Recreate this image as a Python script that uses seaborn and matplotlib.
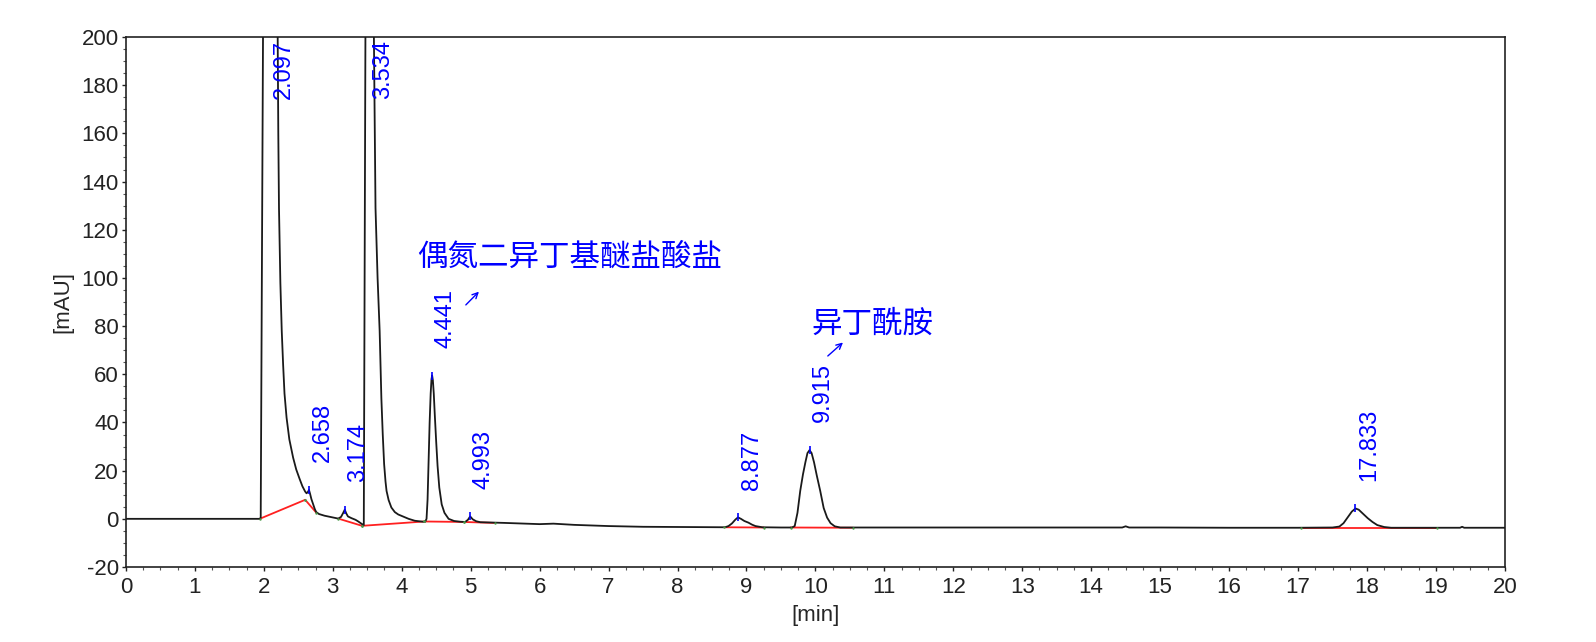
import matplotlib
matplotlib.use("Agg")
import matplotlib.pyplot as plt
from matplotlib.ticker import MultipleLocator
import seaborn as sns
import pandas as pd

# chromatogram trace (min, mAU)
trace_t = [0.0, 1.94, 1.955, 1.99, 2.097, 2.20, 2.21, 2.22, 2.24, 2.26, 2.28, 2.30,
           2.33, 2.37, 2.425, 2.47, 2.52, 2.56, 2.60, 2.62, 2.64, 2.655, 2.67, 2.69,
           2.715, 2.74, 2.76, 2.80, 2.88, 3.00, 3.08, 3.12, 3.15, 3.174, 3.195, 3.22,
           3.27, 3.33, 3.37, 3.425, 3.45, 3.475, 3.534, 3.595, 3.61, 3.62, 3.65, 3.68,
           3.695, 3.705, 3.725, 3.745, 3.765, 3.78, 3.81, 3.85, 3.90, 3.95, 4.00, 4.10,
           4.19, 4.31, 4.34, 4.36, 4.375, 4.39, 4.405, 4.42, 4.432, 4.441, 4.452, 4.465,
           4.48, 4.50, 4.52, 4.545, 4.58, 4.62, 4.68, 4.76, 4.85, 4.92, 4.96, 4.993,
           5.03, 5.08, 5.14, 5.5, 6.0, 6.2, 6.5, 7.0, 7.5, 8.0, 8.6, 8.69, 8.74, 8.79,
           8.84, 8.877, 8.92, 8.97, 9.03, 9.08, 9.13, 9.23, 9.5, 9.66, 9.70, 9.74, 9.78,
           9.82, 9.855, 9.885, 9.915, 9.945, 9.98, 10.02, 10.07, 10.12, 10.17, 10.22,
           10.28, 10.36, 11.0, 12.0, 13.0, 14.0, 14.45, 14.5, 14.55, 15.0, 16.0, 17.0,
           17.5, 17.6, 17.66, 17.72, 17.78, 17.833, 17.88, 17.94, 18.01, 18.08, 18.15,
           18.25, 18.35, 18.5, 19.0, 19.35, 19.38, 19.41, 20.0]
trace_v = [0.0, 0.0, 0.5, 205, 1500, 205, 160, 129, 98, 78, 64, 52,
           42, 33, 25.4, 20.5, 16.5, 13.5, 11.3, 10.6, 11.2, 12.0, 10.5, 8.2,
           6.1, 4.0, 2.8, 2.0, 1.3, 0.6, 0.1, 0.8, 2.4, 3.8, 2.3, 1.0,
           0.3, -0.4, -1.1, -2.2, -2.6, 205, 1500, 205, 160, 129, 100, 78,
           62, 50, 35, 22.7, 15.5, 11.6, 7.8, 4.7, 2.8, 1.8, 1.2, 0.0,
           -0.8, -1.2, -1.2, 0.0, 8.0, 24.0, 40.0, 52.0, 58.0, 59.5, 57.5, 52.0,
           43.0, 32.0, 22.0, 13.0, 6.0, 2.5, 0.0, -0.9, -1.2, -1.3, -0.4, 1.0,
           -0.2, -1.0, -1.4, -1.7, -2.2, -2.0, -2.5, -3.0, -3.3, -3.4, -3.5, -3.5, -3.0, -1.9,
           -0.3, 0.6, 0.0, -0.9, -1.6, -2.4, -3.0, -3.5, -3.6, -3.6, -3.0, 2.5, 11.6,
           18.5, 23.5, 27.3, 28.5, 27.3, 23.5, 18.0, 11.6, 4.5, 0.5, -1.8,
           -3.1, -3.6, -3.6, -3.6, -3.6, -3.6, -3.6, -3.1, -3.6, -3.6, -3.7, -3.7,
           -3.6, -3.2, -1.8, 0.6, 3.0, 4.3, 3.8, 2.2, 0.3, -1.3, -2.6,
           -3.4, -3.7, -3.7, -3.7, -3.7, -3.3, -3.7, -3.7]

# integrated peaks
peak_rt = [2.097, 2.658, 3.174, 3.534, 4.441, 4.993, 8.877, 9.915, 17.833]
peak_h = [1500, 12.0, 3.8, 1500, 59.5, 1.0, 0.6, 28.5, 4.3]

# baseline segments drawn under the peaks
bl_t0 = [1.94, 2.60, 3.08, 3.425, 4.33, 4.90, 8.68, 9.64, 17.05]
bl_v0 = [0.0, 7.9, 0.1, -2.9, -1.1, -1.3, -3.5, -3.6, -3.7]
bl_t1 = [2.60, 2.76, 3.425, 4.33, 4.90, 5.35, 9.25, 10.55, 19.02]
bl_v1 = [7.9, 2.6, -2.9, -1.1, -1.3, -1.7, -3.6, -3.7, -3.7]

# compound names with their text and arrow positions
names = ["偶氮二异丁基醚盐酸盐", "异丁酰胺"]
name_xy = [(4.23, 108.7), (9.94, 81.0)]
arrow_from = [(4.93, 88.8), (10.18, 67.6)]
arrow_to = [(5.12, 94.3), (10.40, 73.2)]

YMIN, YMAX = -20, 200

sns.set_style("ticks")
plt.rcParams["font.family"] = ["Liberation Sans", "Noto Sans CJK SC", "DejaVu Sans"]
plt.rcParams["axes.unicode_minus"] = False

fig = plt.figure(figsize=(15.96, 6.42), dpi=100)
ax = fig.add_axes([0.0789, 0.1168, 0.8640, 0.8255])

trace = pd.DataFrame({"t": trace_t, "v": trace_v})
rows = []
for i in range(len(bl_t0)):
    rows.append({"seg": i, "t": bl_t0[i], "v": bl_v0[i]})
    rows.append({"seg": i, "t": bl_t1[i], "v": bl_v1[i]})
base = pd.DataFrame(rows)

sns.lineplot(data=base, x="t", y="v", units="seg", estimator=None, sort=False,
             color="#ff2020", lw=1.3, ax=ax, zorder=2)
sns.lineplot(data=trace, x="t", y="v", estimator=None, sort=False,
             color="#1a1a1a", lw=1.3, ax=ax, zorder=3)
ax.scatter(bl_t0 + bl_t1, bl_v0 + bl_v1, s=3, color="#4a9a4a", zorder=4, lw=0)

# peak apex markers and retention time labels
for rt, h in zip(peak_rt, peak_h):
    if h < YMAX:
        ax.plot([rt], [h], marker="|", ms=6, mew=1.2, color="blue", zorder=5)
        ax.annotate(f"{rt:.3f}", xy=(rt, h), xytext=(2, 20), textcoords="offset points",
                    rotation=90, ha="left", va="bottom", color="blue", fontsize=17)
    else:
        ax.annotate(f"{rt:.3f}", xy=(rt, YMAX), xytext=(2, -2), textcoords="offset points",
                    rotation=90, ha="left", va="top", color="blue", fontsize=17)

for name, xy, a0, a1 in zip(names, name_xy, arrow_from, arrow_to):
    ax.text(xy[0], xy[1], name, ha="left", va="center", color="blue", fontsize=22,
            family=["Noto Sans CJK SC", "DejaVu Sans"])
    ax.annotate("", xy=a1, xytext=a0,
                arrowprops=dict(arrowstyle="->", color="blue", lw=1, mutation_scale=10,
                                shrinkA=0, shrinkB=0))

ax.set_xlim(0, 20)
ax.set_ylim(YMIN, YMAX)
ax.xaxis.set_major_locator(MultipleLocator(1))
ax.xaxis.set_minor_locator(MultipleLocator(0.25))
ax.yaxis.set_major_locator(MultipleLocator(20))
ax.yaxis.set_minor_locator(MultipleLocator(5))
ax.tick_params(which="major", direction="out", length=3, width=1, labelsize=16,
               colors="#222222", pad=2)
ax.tick_params(which="minor", direction="out", length=2, width=0.8, colors="#555555")
ax.tick_params(axis="x", pad=4)
ax.set_xlabel("[min]", fontsize=16, labelpad=5)
ax.set_ylabel("[mAU]", fontsize=16, labelpad=6)
for s in ax.spines.values():
    s.set_color("#222222")
    s.set_linewidth(1.2)

fig.savefig("out.png", dpi=100)
